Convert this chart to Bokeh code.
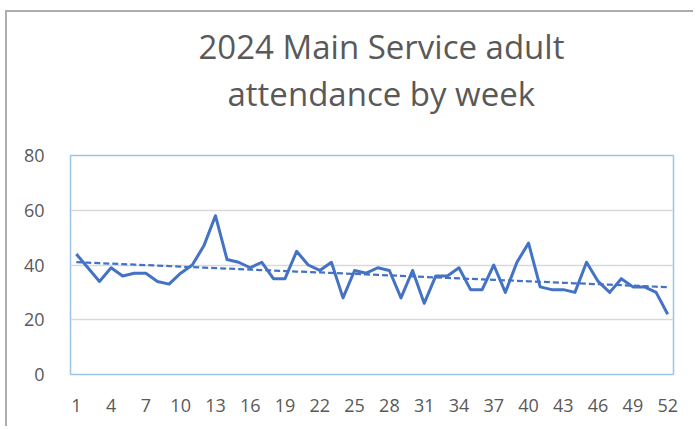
import numpy as np
from bokeh.plotting import figure
from bokeh.models import Range1d, FixedTicker, ColumnDataSource, Title
from bokeh.embed import file_html
from bokeh.resources import INLINE

weeks = list(range(1, 53))
attendance = [44, 39, 34, 39, 36, 37, 37, 34, 33, 37, 40, 47, 58, 42, 41, 39, 41, 35,
              35, 45, 40, 38, 41, 28, 38, 37, 39, 38, 28, 38, 26, 36, 36, 39, 31, 31,
              40, 30, 41, 48, 32, 31, 31, 30, 41, 34, 30, 35, 32, 32, 30, 22]
x_ticks = list(range(1, 53, 3))
y_ticks = [0, 20, 40, 60, 80]
title_line1 = "2024 Main Service adult"
title_line2 = "attendance by week"

# linear trendline (least squares) derived from the data
slope, intercept = np.polyfit(weeks, attendance, 1)
trend = [slope * w + intercept for w in weeks]

src = ColumnDataSource(dict(week=weeks, att=attendance, trend=trend))

TEXT = "#595959"
FONT = "Open Sans"

p = figure(width=688, height=416, output_backend="svg", toolbar_location=None,
           x_range=Range1d(0.5, 52.5), y_range=Range1d(0, 80),
           min_border_left=63, min_border_right=22, min_border_top=143,
           min_border_bottom=54)

p.title.text = title_line1
p.title.align = "left"
p.title.offset = 128
p.title.text_font = FONT
p.title.text_font_size = "33px"
p.title.text_font_style = "normal"
p.title.text_color = TEXT
p.title.standoff = -80

t2 = Title(text=title_line2, align="left", offset=157, text_font=FONT,
           text_font_size="33px", text_font_style="normal", text_color=TEXT,
           standoff=80)
p.add_layout(t2, "above")

p.line("week", "att", source=src, line_color="#4472C4", line_width=3,
       line_join="round")
p.line("week", "trend", source=src, line_color="#4472C4", line_width=2.25,
       line_dash="6 3")

p.outline_line_color = "#9DC3E6"
p.outline_line_width = 1.5

p.xgrid.visible = False
p.ygrid.ticker = FixedTicker(ticks=y_ticks)
p.ygrid.grid_line_color = "#D9D9D9"
p.ygrid.grid_line_width = 1.5

p.xaxis.ticker = FixedTicker(ticks=x_ticks)
p.yaxis.ticker = FixedTicker(ticks=y_ticks)
for ax in (p.xaxis, p.yaxis):
    ax.axis_line_color = None
    ax.major_tick_line_color = None
    ax.minor_tick_line_color = None
    ax.major_label_text_font = FONT
    ax.major_label_text_font_size = "18px"
    ax.major_label_text_color = TEXT
p.xaxis.major_label_standoff = 18
p.yaxis.major_label_standoff = 20

p.background_fill_color = "white"
p.border_fill_color = "white"
p.styles = {"margin-left": "5px", "margin-top": "10px",
            "border-left": "2px solid #ADADAD", "border-top": "2px solid #ADADAD"}

open("out.html", "w").write(file_html(p, INLINE))
